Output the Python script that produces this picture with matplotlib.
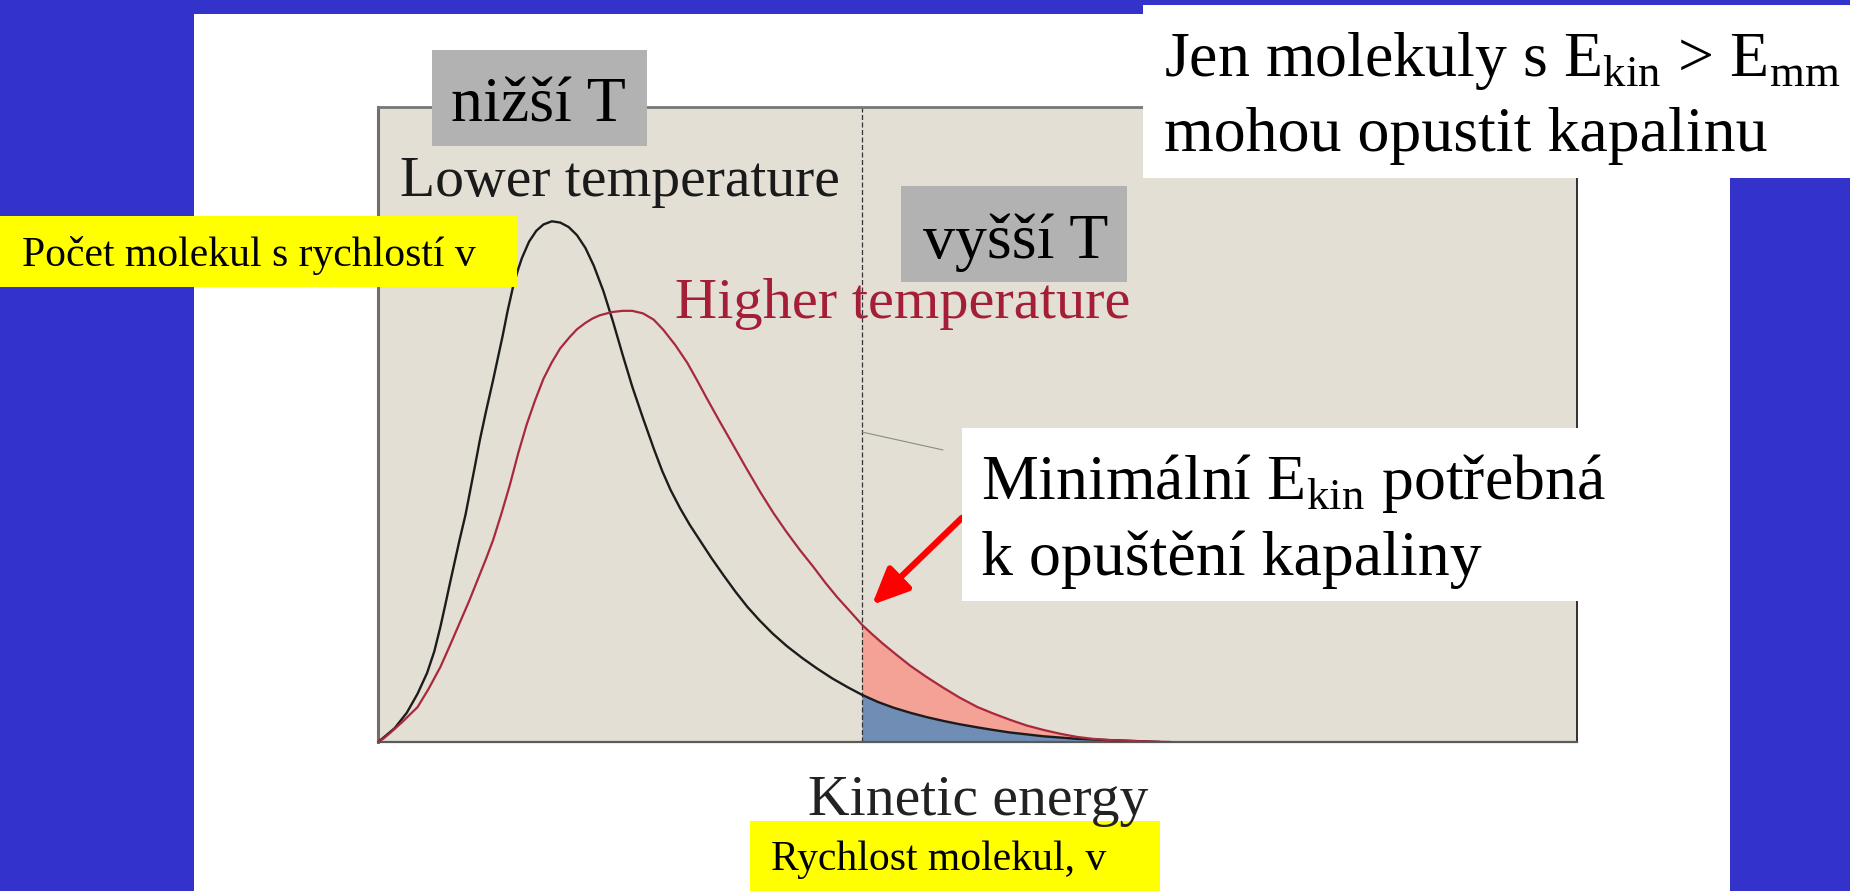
#!/usr/bin/env python3
import matplotlib
matplotlib.use('Agg')
import matplotlib.pyplot as plt
from matplotlib.patches import Rectangle

# values (energy, number of molecules), arbitrary units 0-10
low_t_energy = [0.00, 0.04, 0.14, 0.24, 0.33, 0.41, 0.47, 0.52, 0.56, 0.60,
                0.64, 0.68, 0.73, 0.77, 0.81, 0.85, 0.90, 0.96, 1.00, 1.04,
                1.08, 1.13, 1.17, 1.20, 1.26, 1.32, 1.38, 1.45, 1.52, 1.59,
                1.66, 1.73, 1.80, 1.88, 1.96, 2.04, 2.12, 2.21, 2.30, 2.37,
                2.44, 2.52, 2.60, 2.69, 2.78, 2.88, 2.98, 3.08, 3.18, 3.29,
                3.41, 3.54, 3.66, 3.79, 3.92, 4.04, 4.17, 4.30, 4.44, 4.58,
                4.72, 4.85, 5.00, 5.13, 5.27, 5.41, 5.55, 5.69, 5.83, 5.96,
                6.10, 6.25, 6.52]
low_t_count = [0.00, 0.06, 0.22, 0.46, 0.76, 1.09, 1.43, 1.81, 2.15, 2.50,
               2.84, 3.18, 3.58, 3.97, 4.36, 4.76, 5.20, 5.70, 6.05, 6.40,
               6.78, 7.20, 7.45, 7.62, 7.88, 8.05, 8.15, 8.20, 8.18, 8.11,
               7.98, 7.78, 7.50, 7.10, 6.62, 6.10, 5.60, 5.10, 4.62, 4.27,
               3.97, 3.68, 3.42, 3.16, 2.90, 2.63, 2.37, 2.13, 1.92, 1.71,
               1.51, 1.32, 1.16, 1.00, 0.86, 0.74, 0.63, 0.54, 0.46, 0.39,
               0.33, 0.28, 0.23, 0.19, 0.15, 0.12, 0.09, 0.07, 0.05, 0.04,
               0.03, 0.02, 0.00]

high_t_energy = [0.00, 0.05, 0.10, 0.20, 0.33, 0.42, 0.52, 0.60, 0.68, 0.76,
                 0.83, 0.90, 0.96, 1.03, 1.10, 1.17, 1.24, 1.31, 1.38, 1.45,
                 1.52, 1.60, 1.66, 1.73, 1.79, 1.85, 1.95, 2.04, 2.12, 2.21,
                 2.30, 2.38, 2.48, 2.58, 2.66, 2.74, 2.84, 2.94, 3.06, 3.19,
                 3.30, 3.41, 3.52, 3.63, 3.73, 3.83, 3.94, 4.04, 4.12, 4.21,
                 4.32, 4.44, 4.57, 4.71, 4.85, 5.00, 5.13, 5.27, 5.41, 5.55,
                 5.69, 5.83, 5.96, 6.10, 6.38, 6.61]
high_t_count = [0.00, 0.06, 0.14, 0.31, 0.55, 0.83, 1.18, 1.52, 1.87, 2.22,
                2.55, 2.88, 3.18, 3.60, 4.05, 4.55, 5.00, 5.38, 5.72, 5.98,
                6.20, 6.38, 6.50, 6.60, 6.67, 6.72, 6.77, 6.79, 6.79, 6.75,
                6.65, 6.49, 6.25, 5.97, 5.70, 5.42, 5.08, 4.75, 4.35, 3.93,
                3.60, 3.30, 3.02, 2.76, 2.51, 2.28, 2.05, 1.84, 1.70, 1.55,
                1.38, 1.20, 1.03, 0.86, 0.70, 0.55, 0.45, 0.35, 0.26, 0.19,
                0.13, 0.08, 0.05, 0.03, 0.01, 0.00]

min_energy = 4.04

W, H = 1850, 891
BLUE = '#3333cc'
YELLOW = '#ffff00'
GRAY = '#b2b2b2'
BEIGE = '#e3dfd4'

plt.rcParams['font.family'] = ['Liberation Serif', 'DejaVu Serif']
plt.rcParams['mathtext.fontset'] = 'custom'
plt.rcParams['mathtext.rm'] = 'Liberation Serif'


def box(fig, x0, y0, x1, y1, color, z=2):
    # pixel box measured from the top-left corner
    fig.add_artist(Rectangle((x0 / W, 1 - y1 / H), (x1 - x0) / W, (y1 - y0) / H,
                             transform=fig.transFigure, facecolor=color,
                             edgecolor='none', zorder=z))


def label(fig, x, y, s, size, color='black'):
    fig.text(x / W, 1 - y / H, s, fontsize=size, color=color,
             ha='left', va='baseline', zorder=3)


fig = plt.figure(figsize=(W / 100, H / 100), dpi=100, facecolor=BLUE)
box(fig, 194, 14, 1730, H, 'white', z=-1)

ax = fig.add_axes([378 / W, 1 - 742 / H, 1199 / W, 635 / H])
ax.set_facecolor(BEIGE)
ax.set_xlim(0, 10)
ax.set_ylim(0, 10)
ax.set_xticks([])
ax.set_yticks([])
for side, col, lw in [('left', '#6e6e6e', 2.2), ('bottom', '#5a5a5a', 1.6),
                      ('top', '#777777', 2.0), ('right', '#111111', 1.2)]:
    ax.spines[side].set_color(col)
    ax.spines[side].set_linewidth(lw)

# shaded tails beyond the minimum energy
hi_x = [e for e in high_t_energy if e >= min_energy]
hi_y = [c for e, c in zip(high_t_energy, high_t_count) if e >= min_energy]
lo_x = [e for e in low_t_energy if e >= min_energy]
lo_y = [c for e, c in zip(low_t_energy, low_t_count) if e >= min_energy]
ax.fill(hi_x + lo_x[::-1], hi_y + lo_y[::-1], color='#f4a196', lw=0, zorder=1)
ax.fill(lo_x + [min_energy], lo_y + [0], color='#6f8db5', lw=0, zorder=1)

ax.plot(low_t_energy, low_t_count, color='#1c1c1c', lw=1.7, zorder=3,
        solid_joinstyle='round', solid_capstyle='round')
ax.plot(high_t_energy, high_t_count, color='#a8283c', lw=1.6, zorder=3,
        solid_joinstyle='round', solid_capstyle='round')
ax.plot([min_energy, min_energy], [0, 10], color='#333333', lw=0.9,
        linestyle=(0, (4, 2)), zorder=2)
ax.plot([min_energy, 4.71], [4.88, 4.60], color='#8a8a8a', lw=0.8, zorder=2)

ax.text(0.18, 8.6, 'Lower temperature', fontsize=41.5, color='#1a1a1a',
        va='baseline')
ax.text(2.48, 6.67, 'Higher temperature', fontsize=42, color='#a51e37',
        va='baseline')

ax.annotate('', xy=(4.12, 2.16), xytext=(4.87, 3.53),
            arrowprops=dict(arrowstyle='-|>,head_length=1.0,head_width=0.45',
                            color='red', lw=4.5, mutation_scale=22,
                            shrinkA=0, shrinkB=0),
            zorder=6)

fig.text(808 / W, 1 - 815 / H, 'Kinetic energy', fontsize=41.5,
         color='#222222', va='baseline')

# slide annotations
box(fig, 0, 216, 517, 287, YELLOW)
label(fig, 22, 266, 'Počet molekul s rychlostí v', 30)

box(fig, 750, 821, 1160, H, YELLOW)
label(fig, 771, 870, 'Rychlost molekul, v', 30)

box(fig, 432, 50, 647, 146, GRAY)
label(fig, 451, 121, 'nižší T', 46)

box(fig, 901, 186, 1127, 282, GRAY)
label(fig, 923, 258, 'vyšší T', 46)

box(fig, 1143, 5, W, 178, 'white')
label(fig, 1164, 76, r'Jen molekuly s E$_\mathregular{kin}$ > E$_\mathregular{mm}$', 46)
label(fig, 1164, 151, 'mohou opustit kapalinu', 46)

box(fig, 962, 428, 1600, 601, 'white')
label(fig, 981, 499, r'Minimální E$_\mathregular{kin}$ potřebná', 46)
label(fig, 981, 575, 'k opuštění kapaliny', 46)

plt.savefig('out.png', dpi=100, facecolor=BLUE)
